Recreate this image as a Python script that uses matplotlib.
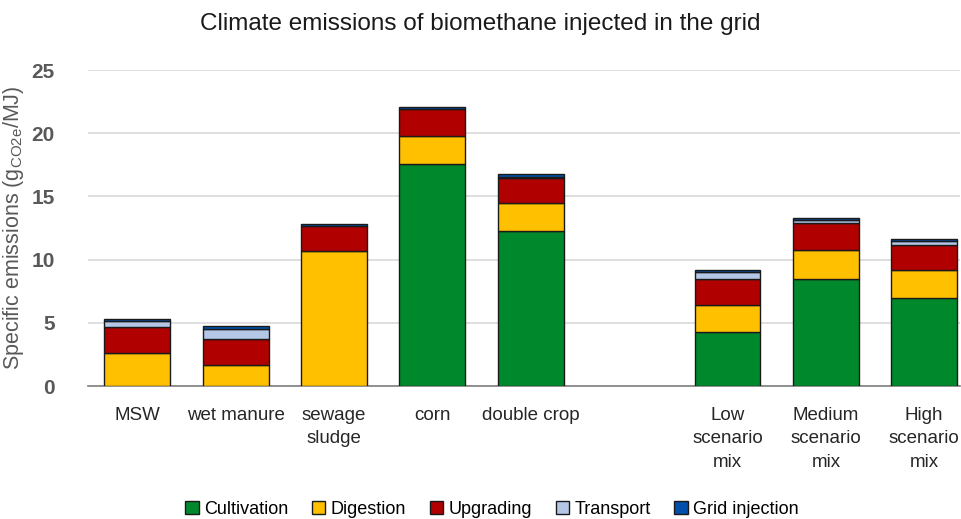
import matplotlib.pyplot as plt
import numpy as np

plt.rcParams['font.family'] = ['Liberation Sans', 'DejaVu Sans']

categories = ['MSW', 'wet manure', 'sewage\nsludge', 'corn', 'double crop', '',
              'Low\nscenario\nmix', 'Medium\nscenario\nmix', 'High\nscenario\nmix']
cultivation = [0, 0, 0, 17.6, 12.3, 0, 4.3, 8.5, 7.0]
digestion = [2.63, 1.66, 10.7, 2.2, 2.2, 0, 2.15, 2.3, 2.2]
upgrading = [2.06, 2.03, 1.95, 2.1, 2.0, 0, 2.05, 2.1, 2.0]
transport = [0.45, 0.84, 0.0, 0.0, 0.05, 0, 0.55, 0.22, 0.3]
grid_inj = [0.16, 0.22, 0.15, 0.15, 0.2, 0, 0.16, 0.17, 0.17]

series = [('Cultivation', cultivation, '#00892C'),
          ('Digestion', digestion, '#FFC000'),
          ('Upgrading', upgrading, '#B00000'),
          ('Transport', transport, '#B4C7E7'),
          ('Grid injection', grid_inj, '#0050AA')]

fig = plt.figure(figsize=(9.61, 5.19), dpi=100)
ax = fig.add_axes([0.0916, 0.256, 0.907, 0.609])

x = np.arange(len(categories))
bottom = np.zeros(len(categories))
for name, vals, col in series:
    vals = np.array(vals, dtype=float)
    h = np.where(vals > 0, vals, np.nan)
    ax.bar(x, h, 0.67, bottom=bottom, color=col, edgecolor='#1a1a1a',
           linewidth=1.0, label=name, zorder=3)
    bottom += vals

ax.set_xlim(-0.5, 8.36)
ax.set_ylim(0, 25)
ax.set_yticks([0, 5, 10, 15, 20, 25])
ax.yaxis.grid(True, color='#D9D9D9', linewidth=1.2, zorder=0)
for s in ['top', 'right', 'left']:
    ax.spines[s].set_visible(False)
ax.spines['bottom'].set_color('#7f7f7f')
ax.spines['bottom'].set_linewidth(1.2)
ax.tick_params(axis='y', length=0, pad=24, labelsize=15, labelcolor='#595959')
for lab in ax.get_yticklabels():
    lab.set_fontweight('bold')
ax.set_xticks(x)
ax.set_xticklabels(categories, fontsize=13.5, color='#262626', va='top', linespacing=1.5)
ax.tick_params(axis='x', length=0, pad=15)
ax.set_ylabel('Specific emissions (g$_{\\mathregular{CO2e}}$/MJ)', fontsize=15.5,
              color='#595959', labelpad=4)

fig.suptitle('Climate emissions of biomethane injected in the grid', fontsize=17.5,
             y=0.975, color='#1a1a1a')

fig.legend(*ax.get_legend_handles_labels(), loc='center', bbox_to_anchor=(0.512, 0.018),
           ncol=5, frameon=False, fontsize=13, handlelength=0.75, handleheight=0.75,
           handletextpad=0.3, columnspacing=1.3, borderaxespad=0, borderpad=0)

fig.savefig('out.png', dpi=100)
